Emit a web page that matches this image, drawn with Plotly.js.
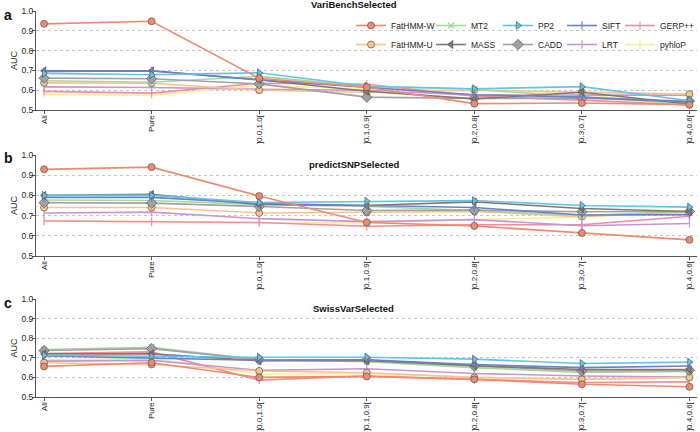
<!DOCTYPE html>
<html><head><meta charset="utf-8">
<script src="https://cdn.plot.ly/plotly-3.0.1.min.js"></script>
<style>html,body{margin:0;padding:0;background:#fff}#chart{width:700px;height:432px}</style>
</head><body><div id="chart"></div>
<script>
const categories = ['All','Pure',']0.0,1.0[',']0.1,0.9[',']0.2,0.8[',']0.3,0.7[',']0.4,0.6['];
const methods = ['FatHMM-W','FatHMM-U','MT2','MASS','PP2','CADD','SIFT','LRT','GERP++','pyhloP'];
const panelTitles = ['VariBenchSelected','predictSNPSelected','SwissVarSelected'];
const panelLetters = ['a','b','c'];
const yTickVals = [0.5,0.6,0.7,0.8,0.9,1.0];
const yGridVals = [0.6,0.7,0.8,0.9];

// Panel a: VariBenchSelected
const a_FatHMMW = [0.935,0.948,0.660,0.615,0.532,0.535,0.527];
const a_FatHMMU = [0.637,0.635,0.600,0.590,0.600,0.590,0.580];
const a_MT2     = [0.648,0.640,0.670,0.620,0.605,0.565,0.530];
const a_MASS    = [0.698,0.698,0.653,0.595,0.556,0.590,0.530];
const a_PP2     = [0.685,0.678,0.688,0.620,0.607,0.618,0.547];
const a_CADD    = [0.661,0.658,0.632,0.565,0.558,0.560,0.545];
const a_SIFT    = [0.695,0.697,0.652,0.615,0.577,0.565,0.540];
const a_LRT     = [0.617,0.614,0.605,0.600,0.575,0.575,0.575];
const a_GERP    = [0.594,0.585,0.635,0.630,0.570,0.550,0.525];
const a_phyloP  = [0.580,0.574,0.625,0.605,0.605,0.580,0.520];

// Panel b: predictSNPSelected
const b_FatHMMW = [0.929,0.940,0.797,0.666,0.649,0.614,0.580];
const b_FatHMMU = [0.740,0.740,0.713,0.715,0.720,0.695,0.720];
const b_MT2     = [0.777,0.775,0.755,0.745,0.725,0.700,0.720];
const b_MASS    = [0.800,0.805,0.755,0.750,0.768,0.735,0.720];
const b_PP2     = [0.800,0.800,0.765,0.771,0.774,0.750,0.742];
const b_CADD    = [0.764,0.762,0.745,0.725,0.727,0.719,0.720];
const b_SIFT    = [0.790,0.790,0.760,0.750,0.740,0.703,0.705];
const b_LRT     = [0.713,0.717,0.685,0.670,0.680,0.650,0.661];
const b_GERP    = [0.673,0.668,0.666,0.647,0.655,0.655,0.697];
const b_phyloP  = [0.676,0.672,0.663,0.665,0.680,0.695,0.715];

// Panel c: SwissVarSelected
const c_FatHMMW = [0.656,0.675,0.600,0.605,0.590,0.565,0.552];
const c_FatHMMU = [0.675,0.666,0.633,0.624,0.600,0.590,0.600];
const c_MT2     = [0.742,0.754,0.690,0.680,0.650,0.625,0.630];
const c_MASS    = [0.720,0.720,0.685,0.685,0.660,0.640,0.640];
const c_PP2     = [0.713,0.708,0.703,0.703,0.693,0.671,0.678];
const c_CADD    = [0.737,0.747,0.690,0.690,0.658,0.633,0.636];
const c_SIFT    = [0.710,0.700,0.687,0.690,0.666,0.650,0.658];
const c_LRT     = [0.683,0.687,0.636,0.644,0.620,0.607,0.602];
const c_GERP    = [0.722,0.730,0.586,0.607,0.590,0.574,0.577];
const c_phyloP  = [0.690,0.697,0.616,0.620,0.600,0.590,0.600];

const panelData = [
  [a_FatHMMW,a_FatHMMU,a_MT2,a_MASS,a_PP2,a_CADD,a_SIFT,a_LRT,a_GERP,a_phyloP],
  [b_FatHMMW,b_FatHMMU,b_MT2,b_MASS,b_PP2,b_CADD,b_SIFT,b_LRT,b_GERP,b_phyloP],
  [c_FatHMMW,c_FatHMMU,c_MT2,c_MASS,c_PP2,c_CADD,c_SIFT,c_LRT,c_GERP,c_phyloP]
];

// styles (index matches methods)
const styles = [
  {color:'#EE8A6E', symbol:'circle', size:7, legend:'legend',  rank:1},
  {color:'#F6C48C', symbol:'circle', size:7, legend:'legend',  rank:2},
  {color:'#A6D89E', symbol:'x-thin', size:6, legend:'legend2', rank:1},
  {color:'#86776A', symbol:'triangle-left', size:7, legend:'legend2', rank:2},
  {color:'#62C4EA', symbol:'triangle-right', size:7, legend:'legend3', rank:1},
  {color:'#A2A2A2', symbol:'diamond', size:8, legend:'legend3', rank:2},
  {color:'#6F7FC6', symbol:'line-ns', size:6, legend:'legend4', rank:1},
  {color:'#C596D6', symbol:'line-ns', size:6, legend:'legend4', rank:2},
  {color:'#F28C9C', symbol:'line-ns', size:6, legend:'legend5', rank:1},
  {color:'#F9EE9E', symbol:'line-ns', size:6, legend:'legend5', rank:2}
];
const drawOrder = [9,8,7,1,2,5,3,6,4,0];

const traces = [];
for (let p = 0; p < 3; p++) {
  const sfx = p === 0 ? '' : String(p + 1);
  // empty trace to host the grid-only overlay axis
  traces.push({type:'scatter', mode:'markers', x:[], y:[], xaxis:'x'+sfx, yaxis:'y'+(p+4), showlegend:false, hoverinfo:'skip'});
  for (const m of drawOrder) {
    const st = styles[m];
    const isLine = st.symbol.startsWith('line') || st.symbol.startsWith('x-thin');
    traces.push({
      type:'scatter', mode:'lines+markers',
      x: categories, y: panelData[p][m], name: methods[m],
      xaxis:'x'+sfx, yaxis:'y'+sfx,
      line:{color:st.color, width:1.6},
      marker:{symbol:st.symbol, size:st.size, color:st.color,
              line:{color: isLine ? st.color : '#555', width: isLine ? 1.2 : 0.7}},
      showlegend: p === 0, legend: st.legend, legendrank: st.rank
    });
  }
}

const H = 432, W = 700;
const py = v => 1 - v / H;
const px = v => v / W;
const domainsY = [[py(110), py(11)], [py(256), py(155)], [py(397), py(299)]];
const xDomain = [px(36), px(697)];
const TF = 8;

const layout = {
  width: W, height: H,
  margin:{l:0,r:0,t:0,b:0},
  paper_bgcolor:'#fff', plot_bgcolor:'#fff',
  font:{family:'Liberation Sans, Arial, sans-serif', size:TF, color:'#222'},
  annotations: [], showlegend:true
};
for (let p = 0; p < 3; p++) {
  const sfx = p === 0 ? '' : String(p + 1);
  layout['xaxis'+sfx] = {
    domain: xDomain, anchor:'y'+sfx, type:'category',
    range:[-0.075, 6.07], tickangle:-90, ticks:'outside', ticklen:3, tickcolor:'#555',
    showline:true, linecolor:'#555', linewidth:1, showgrid:false, zeroline:false,
    tickfont:{size:TF, color:'#222'}, ticklabelstandoff:-2
  };
  layout['yaxis'+sfx] = {
    domain: domainsY[p], anchor:'x'+sfx, range:[0.5,1.0],
    tickvals: yTickVals, tickformat:'.1f', ticks:'outside', ticklen:3, tickcolor:'#555',
    showline:true, linecolor:'#555', linewidth:1,
    showgrid:false, zeroline:false,
    tickfont:{size:8.5, color:'#222'}, ticklabelstandoff:-3,
    title:{text:'AUC', font:{size:9, color:'#222'}, standoff:2}
  };
  layout['yaxis'+(p+4)] = {
    overlaying:'y'+sfx, anchor:'x'+sfx, range:[0.5,1.0], tickvals: yGridVals,
    showgrid:true, gridcolor:'#c4c4c4', griddash:'dot', gridwidth:1,
    showticklabels:false, ticks:'', showline:false, zeroline:false
  };
}
const titleY = [5, 164, 308];
const letterY = [15, 158, 303];
for (let p = 0; p < 3; p++) {
  layout.annotations.push({
    xref:'paper', yref:'paper', x: px(354), y: py(titleY[p]), xanchor:'center', yanchor:'middle',
    text:'<b>'+panelTitles[p]+'</b>', showarrow:false, font:{size:9.5, color:'#111'}
  });
  layout.annotations.push({
    xref:'paper', yref:'paper', x: px(2), y: py(letterY[p]), xanchor:'left', yanchor:'middle',
    text:'<b>'+panelLetters[p]+'</b>', showarrow:false, font:{size:14, color:'#111'}
  });
}
const legX = [351, 431, 498, 562, 620];
const legNames = ['legend','legend2','legend3','legend4','legend5'];
legNames.forEach((ln, i) => {
  layout[ln] = {
    x: px(legX[i]), y: py(11), xanchor:'left', yanchor:'top',
    orientation:'v', bgcolor:'rgba(0,0,0,0)', borderwidth:0,
    font:{size:8.5, color:'#222'}, itemwidth:30, tracegroupgap:0
  };
});

Plotly.newPlot('chart', traces, layout, {displayModeBar:false, staticPlot:true});
</script></body></html>
